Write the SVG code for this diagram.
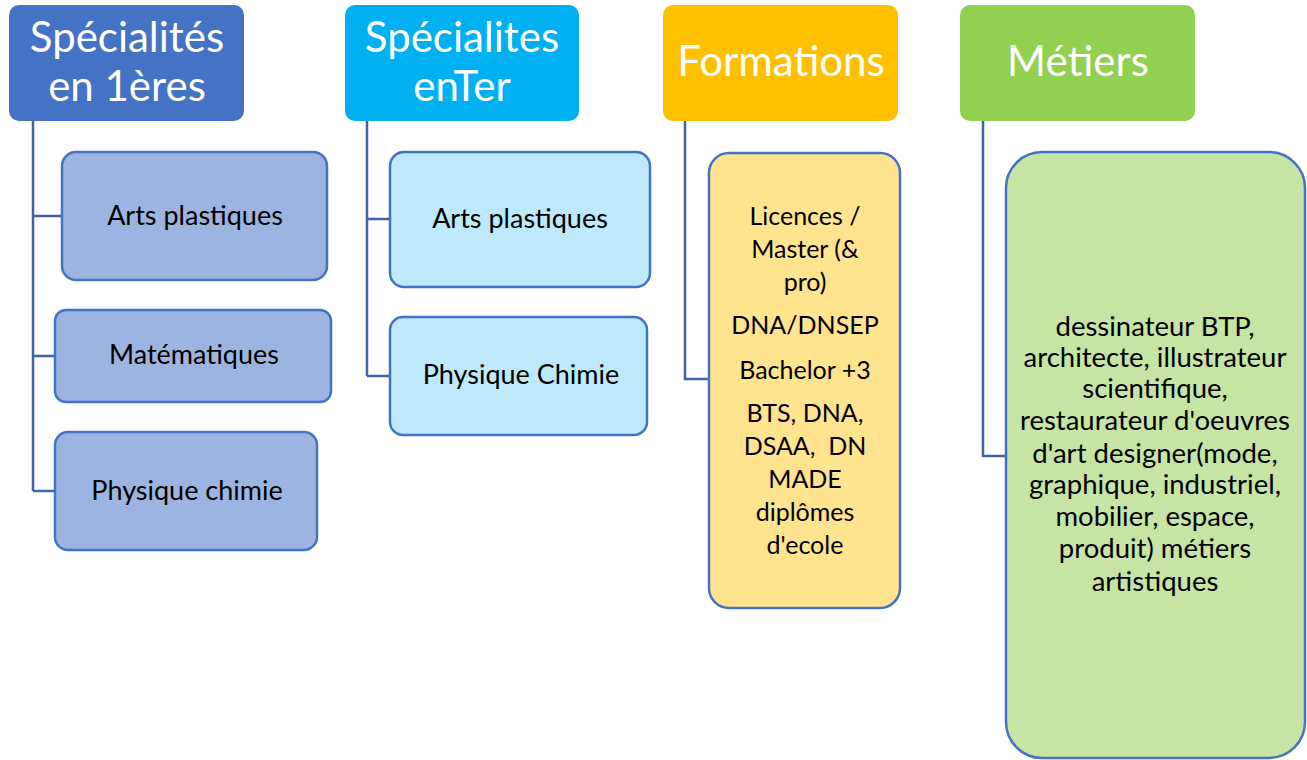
<svg xmlns="http://www.w3.org/2000/svg" width="1307" height="760" viewBox="0 0 1307 760">
<style>
text{font-family:Lato,"Open Sans","Liberation Sans",sans-serif;text-anchor:middle}
.h{fill:#fff;font-size:42px}
.c{fill:#000;font-size:27px}
.d{fill:#000;font-size:25px}
.e{fill:#000;font-size:27.5px}
.conn{fill:none;stroke:#3F62A8;stroke-width:2.5}
.k{stroke:#4472C4;stroke-width:2.5}
</style>
<rect width="1307" height="760" fill="#fff"/>
<g id="connectors">
<path class="conn" d="M33 121V491M33 216H62M33 356H55M33 491H55"/>
<path class="conn" d="M367 121V376M367 219H390M367 376H390"/>
<path class="conn" d="M685 121V379H709"/>
<path class="conn" d="M983 121V456H1006"/>
</g>
<g id="h1"><rect x="9" y="5" width="235" height="116" rx="10" fill="#4472C4"/><text class="h" x="127" y="52">Spécialités</text><text class="h" x="127" y="101">en 1ères</text></g>
<g id="h2"><rect x="345" y="5" width="234" height="116" rx="10" fill="#00B0F0"/><text class="h" x="462" y="52">Spécialites</text><text class="h" x="462" y="101">enTer</text></g>
<g id="h3"><rect x="663" y="5" width="235" height="116" rx="10" fill="#FFC000"/><text class="h" x="781" y="76">Formations</text></g>
<g id="h4"><rect x="960" y="5" width="235" height="116" rx="10" fill="#92D050"/><text class="h" x="1078" y="76">Métiers</text></g>
<g id="c1a"><rect class="k" x="62" y="152" width="265" height="128" rx="14" fill="#9DB4E0"/><text class="c" x="195" y="225">Arts plastiques</text></g>
<g id="c1b"><rect class="k" x="55" y="310" width="276" height="92" rx="11" fill="#9DB4E0"/><text class="c" x="194" y="364">Matématiques</text></g>
<g id="c1c"><rect class="k" x="55" y="432" width="262" height="118" rx="13" fill="#9DB4E0"/><text class="c" x="187" y="500">Physique chimie</text></g>
<g id="c2a"><rect class="k" x="390" y="152" width="260" height="135" rx="14" fill="#BDE9FA"/><text class="c" x="520" y="228">Arts plastiques</text></g>
<g id="c2b"><rect class="k" x="390" y="317" width="257" height="118" rx="13" fill="#BDE9FA"/><text class="c" x="521" y="384">Physique Chimie</text></g>
<g id="c3"><rect class="k" x="709" y="153" width="191" height="455" rx="20" fill="#FFE38F"/>
<text class="d" x="805" y="225">Licences /</text><text class="d" x="805" y="258">Master (&amp;</text><text class="d" x="805" y="291">pro)</text>
<text class="d" x="805" y="334">DNA/DNSEP</text><text class="d" x="805" y="379">Bachelor +3</text>
<text class="d" x="805" y="422">BTS, DNA,</text><text class="d" x="805" y="455" xml:space="preserve">DSAA,  DN</text><text class="d" x="805" y="488">MADE</text><text class="d" x="805" y="521">diplômes</text><text class="d" x="805" y="554">d'ecole</text></g>
<g id="c4"><rect class="k" x="1006" y="152" width="299" height="606" rx="36" fill="#C6E5A5"/>
<text class="e" x="1155" y="336">dessinateur BTP,</text><text class="e" x="1155" y="367">architecte, illustrateur</text><text class="e" x="1155" y="398">scientifique,</text><text class="e" x="1155" y="430">restaurateur d'oeuvres</text><text class="e" x="1155" y="463">d'art designer(mode,</text><text class="e" x="1155" y="494">graphique, industriel,</text><text class="e" x="1155" y="526">mobilier, espace,</text><text class="e" x="1155" y="558">produit) métiers</text><text class="e" x="1155" y="591">artistiques</text></g>
</svg>
